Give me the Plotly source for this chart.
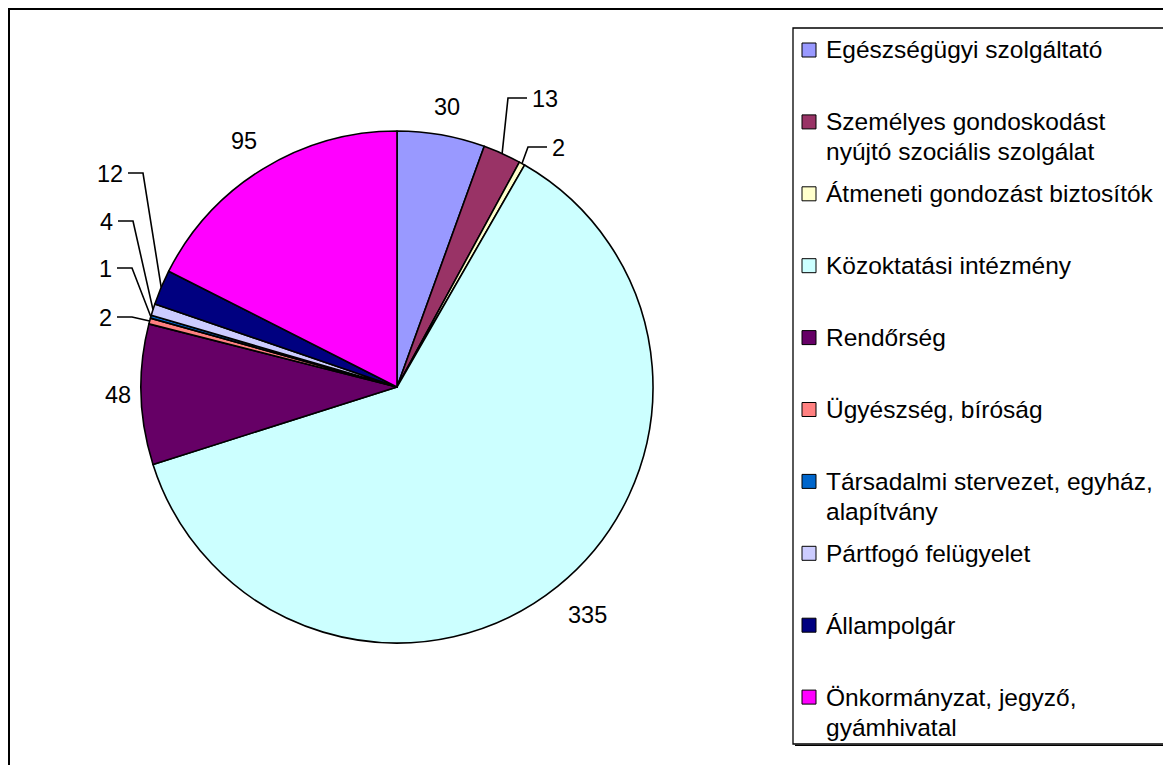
import math
import plotly.graph_objects as go

# ---------------- data ----------------
categories = [
    "Egészségügyi szolgáltató",
    "Személyes gondoskodást\nnyújtó szociális szolgálat",
    "Átmeneti gondozást biztosítók",
    "Közoktatási intézmény",
    "Rendőrség",
    "Ügyészség, bíróság",
    "Társadalmi stervezet, egyház,\nalapítvány",
    "Pártfogó felügyelet",
    "Állampolgár",
    "Önkormányzat, jegyző,\ngyámhivatal",
]
values = [30, 13, 2, 335, 48, 2, 1, 4, 12, 95]
colors = ["#9999FF", "#993366", "#FFFFCC", "#CCFFFF", "#660066",
          "#FF8080", "#0066CC", "#CCCCFF", "#000080", "#FF00FF"]

# ---------------- layout constants (pixels in the 1171x765 window) ----------------
W, H = 1171, 765
OFF = 8                      # page body margin
FW, FH = W - OFF, H - OFF    # figure size
CX, CY, R = 397, 387, 256
FONT = "Liberation Sans, Arial, sans-serif"
LABEL_SIZE = 23.5
LEGEND_SIZE = 24.5
# gap between pie edge and label box for labels without leader lines
label_gap = {0: 19, 3: 28, 4: 10, 9: 24}
# elbow point of leader lines, and side of the label
leader_elbow = {1: (508, 98, "right"), 2: (528, 147, "right"),
                5: (132, 317, "left"), 6: (132, 268, "left"),
                7: (133, 221, "left"), 8: (143, 173, "left")}
LEG_X0, LEG_Y0, LEG_X1, LEG_Y1 = 793, 28, 1167, 744
LEG_FIRST, LEG_STEP, LEG_LINE = 50, 71.9, 30


def px(x):
    return (x - OFF) / FW


def py(y):
    return 1 - (y - OFF) / FH


fig = go.Figure()
fig.add_trace(go.Pie(
    values=values,
    labels=[c.replace("\n", " ") for c in categories],
    marker=dict(colors=colors, line=dict(color="black", width=1.6)),
    sort=False, direction="clockwise", rotation=0,
    textinfo="none", showlegend=False, hoverinfo="label+value",
    domain=dict(x=[px(CX - R), px(CX + R)], y=[py(CY + R), py(CY - R)]),
))

shapes = []
annotations = []

total = sum(values)
cum = 0.0
for i, v in enumerate(values):
    a0 = cum / total * 2 * math.pi
    cum += v
    a1 = cum / total * 2 * math.pi
    am = (a0 + a1) / 2
    dx, dy = math.sin(am), -math.cos(am)
    txt = str(v)
    if i in leader_elbow:
        ex, ey, side = leader_elbow[i]
        sx, sy = CX + R * dx, CY + R * dy
        if side == "right":
            hx = ex + 19
            tx, anchor = hx + 3, "left"
        else:
            hx = ex - 15
            tx, anchor = hx - 3, "right"
        shapes.append(dict(
            type="path", xref="paper", yref="paper",
            path=f"M {px(sx)},{py(sy)} L {px(ex)},{py(ey)} L {px(hx)},{py(ey)}",
            line=dict(color="black", width=1.6)))
        annotations.append(dict(
            x=px(tx), y=py(ey + 1), xref="paper", yref="paper", text=txt,
            xanchor=anchor, yanchor="middle", showarrow=False,
            font=dict(family=FONT, size=LABEL_SIZE, color="black")))
    else:
        g = label_gap.get(i, 20)
        hw = 0.55 * LABEL_SIZE * len(txt) / 2
        hh = 9
        lx = CX + (R + g) * dx + dx * hw
        ly = CY + (R + g) * dy + dy * hh
        annotations.append(dict(
            x=px(lx), y=py(ly), xref="paper", yref="paper", text=txt,
            xanchor="center", yanchor="middle", showarrow=False,
            font=dict(family=FONT, size=LABEL_SIZE, color="black")))

# outer frame (kept just inside the figure area)
shapes.append(dict(type="rect", xref="paper", yref="paper",
                   x0=px(9), y0=py(9), x1=px(1180), y1=py(775),
                   line=dict(color="black", width=2)))
# legend box with shadow on right/bottom
shapes.append(dict(type="rect", xref="paper", yref="paper",
                   x0=px(LEG_X0), y0=py(LEG_Y0), x1=px(LEG_X1), y1=py(LEG_Y1),
                   line=dict(color="black", width=1.3)))
shapes.append(dict(type="line", xref="paper", yref="paper",
                   x0=px(LEG_X1 + 1.3), y0=py(LEG_Y0 + 2), x1=px(LEG_X1 + 1.3), y1=py(LEG_Y1 + 1.3),
                   line=dict(color="black", width=1.3)))
shapes.append(dict(type="line", xref="paper", yref="paper",
                   x0=px(LEG_X0 + 2), y0=py(LEG_Y1 + 1.3), x1=px(LEG_X1 + 1.3), y1=py(LEG_Y1 + 1.3),
                   line=dict(color="black", width=1.3)))

for i, (cat, col) in enumerate(zip(categories, colors)):
    y = LEG_FIRST + i * LEG_STEP
    shapes.append(dict(type="rect", xref="paper", yref="paper",
                       x0=px(802), y0=py(y - 7), x1=px(816), y1=py(y + 7),
                       fillcolor=col, line=dict(color="black", width=1)))
    for k, line in enumerate(cat.split("\n")):
        annotations.append(dict(
            x=px(824), y=py(y + k * LEG_LINE), xref="paper", yref="paper",
            text=line, xanchor="left", yanchor="middle", showarrow=False,
            font=dict(family=FONT, size=LEGEND_SIZE, color="black")))

fig.update_layout(
    width=FW, height=FH,
    margin=dict(l=0, r=0, t=0, b=0),
    paper_bgcolor="white", plot_bgcolor="white",
    shapes=shapes, annotations=annotations,
)
fig.write_html("out.html")
